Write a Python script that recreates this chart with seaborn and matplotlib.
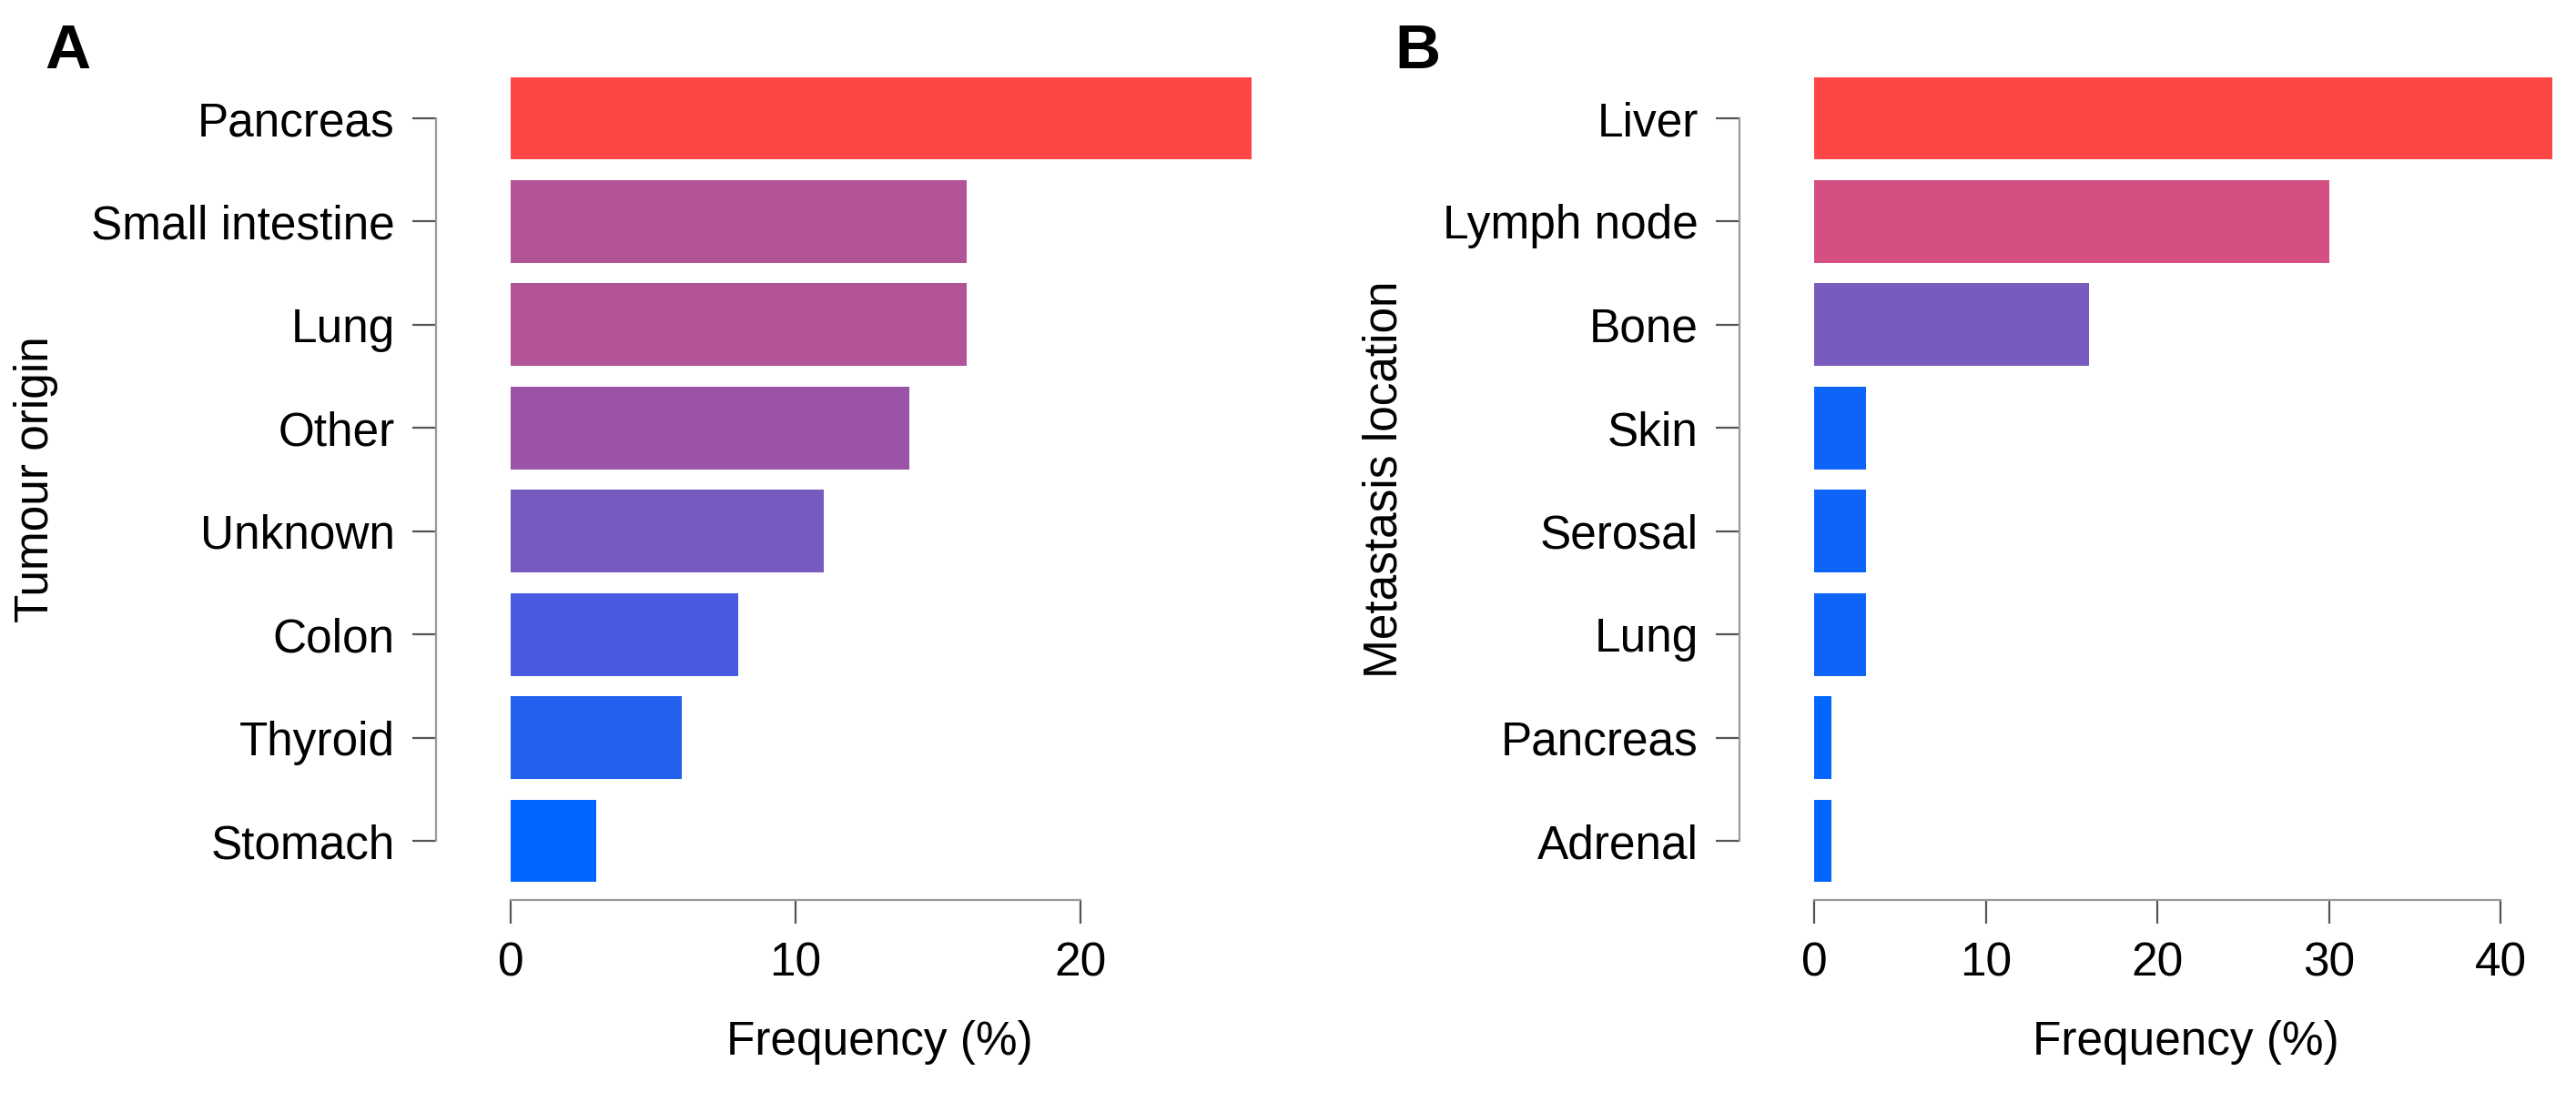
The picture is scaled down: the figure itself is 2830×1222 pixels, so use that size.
import matplotlib
matplotlib.use("Agg")
import matplotlib.pyplot as plt
from matplotlib.colors import LinearSegmentedColormap, Normalize
import seaborn as sns

# ---- data ----
origin_cats = ["Pancreas", "Small intestine", "Lung", "Other", "Unknown", "Colon", "Thyroid", "Stomach"]
origin_vals = [26, 16, 16, 14, 11, 8, 6, 3]
origin_ticks = [0, 10, 20]

meta_cats = ["Liver", "Lymph node", "Bone", "Skin", "Serosal", "Lung", "Pancreas", "Adrenal"]
meta_vals = [43, 30, 16, 3, 3, 3, 1, 1]
meta_ticks = [0, 10, 20, 30, 40]

# ---- style ----
sns.set_theme(style="ticks")
plt.rcParams["font.family"] = ["Liberation Sans", "DejaVu Sans"]

cmap = LinearSegmentedColormap.from_list("blue_red", [
    (0.00, "#0066FF"), (0.13, "#2260EE"), (0.22, "#4A5BDF"), (0.35, "#775AC0"),
    (0.48, "#9B53A8"), (0.565, "#B35398"), (0.69, "#D44F82"), (1.00, "#FF4646")])

W, H = 2830, 1222
fig = plt.figure(figsize=(W / 100, H / 100), dpi=100)
FS = 37
SPINE_C = "#9a9a9a"
TICK_C = "#555555"

y_top_px, y_bot_px = 130, 924          # centres of first / last bar
unit_y = (y_bot_px - y_top_px) / 7
axis_y_px = 989
axes_top_px = 40


def panel(cats, vals, ticks, spine_px, zero_px, unit_x, right_px, ylab, ylab_px, xlab_px, letter, letter_px):
    left = spine_px / W
    width = (right_px - spine_px) / W
    bottom = 1 - axis_y_px / H
    height = (axis_y_px - axes_top_px) / H
    ax = fig.add_axes([left, bottom, width, height])
    norm = Normalize(vmin=min(vals), vmax=max(vals))
    colors = [cmap(norm(v)) for v in vals]
    sns.barplot(x=vals, y=cats, hue=cats, palette=colors, width=0.8, saturation=1,
                legend=False, ax=ax, linewidth=0, dodge=False)
    x_left = -(zero_px - spine_px) / unit_x
    x_right = (right_px - zero_px) / unit_x
    ax.set_xlim(x_left, x_right)
    y_bottom = 7 + (axis_y_px - y_bot_px) / unit_y
    y_topv = -(y_top_px - axes_top_px) / unit_y
    ax.set_ylim(y_bottom, y_topv)
    sns.despine(ax=ax)
    ax.spines["left"].set_bounds(0, 7)
    ax.spines["bottom"].set_bounds(ticks[0], ticks[-1])
    for s in ("left", "bottom"):
        ax.spines[s].set_color(SPINE_C)
        ax.spines[s].set_linewidth(1.6)
    ax.set_xticks(ticks)
    ax.set_xticklabels([str(t) for t in ticks])
    ax.tick_params(axis="both", length=18.5, width=1.6, color=TICK_C, labelsize=FS, labelcolor="black")
    ax.tick_params(axis="y", pad=14)
    ax.tick_params(axis="x", pad=14)
    ax.set_xlabel("Frequency (%)", fontsize=FS, color="black")
    ax.set_ylabel(ylab, fontsize=FS, color="black")
    aw = right_px - spine_px
    ah = axis_y_px - axes_top_px
    ax.xaxis.set_label_coords((xlab_px - spine_px) / aw, (axis_y_px - 1146) / ah)
    ax.xaxis.label.set_va("center")
    ax.yaxis.set_label_coords((ylab_px - spine_px) / aw, (axis_y_px - 527) / ah)
    ax.yaxis.label.set_va("center")
    ax.grid(False)
    fig.text(letter_px / W, 1 - 57 / H, letter, fontsize=50, fontweight="bold",
             ha="center", va="center", color="black")
    return ax


panel(origin_cats, origin_vals, origin_ticks, spine_px=479, zero_px=561, unit_x=31.3,
      right_px=1406, ylab="Tumour origin", ylab_px=40, xlab_px=966, letter="A", letter_px=74)
panel(meta_cats, meta_vals, meta_ticks, spine_px=1911, zero_px=1993, unit_x=18.85,
      right_px=2825, ylab="Metastasis location", ylab_px=1521, xlab_px=2401, letter="B", letter_px=1557)

fig.savefig("out.png", dpi=100)
